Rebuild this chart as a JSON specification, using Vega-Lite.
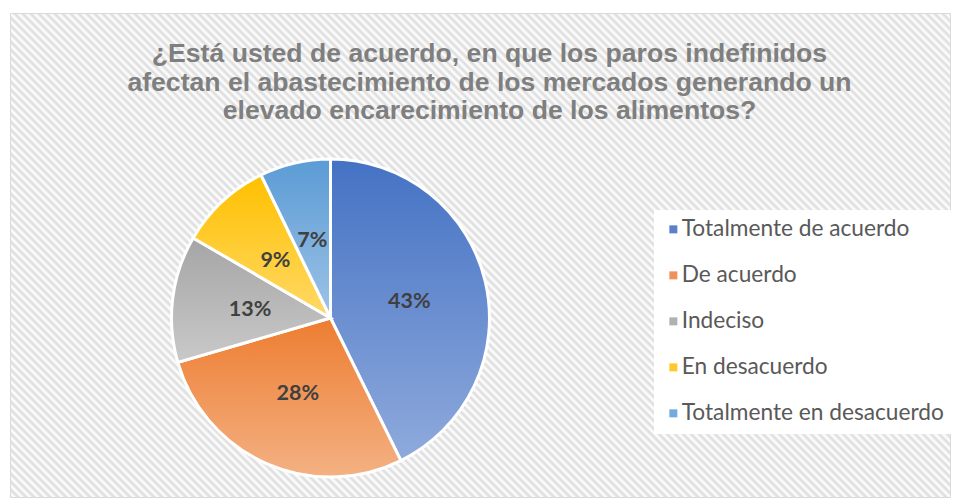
{
  "$schema": "https://vega.github.io/schema/vega-lite/v6.json",
  "width": 940,
  "height": 484,
  "autosize": {"type": "none"},
  "padding": {"left": 10, "top": 13, "right": 5, "bottom": 4},
  "background": "#ffffff",
  "title": {
    "text": ["¿Está usted de acuerdo, en que los paros indefinidos", "afectan el abastecimiento de los mercados generando un", "elevado encarecimiento de los alimentos?"],
    "anchor": "middle",
    "frame": "group",
    "offset": -112,
    "dx": 9.5,
    "font": "Liberation Sans",
    "fontSize": 26.6,
    "fontWeight": "bold",
    "color": "#7f7f7f",
    "lineHeight": 28.5
  },
  "data": {
    "values": [
      {"categoria": "Totalmente de acuerdo", "proporcion": 0.427, "orden": 1},
      {"categoria": "De acuerdo", "proporcion": 0.278, "orden": 2},
      {"categoria": "Indeciso", "proporcion": 0.129, "orden": 3},
      {"categoria": "En desacuerdo", "proporcion": 0.094, "orden": 4},
      {"categoria": "Totalmente en desacuerdo", "proporcion": 0.072, "orden": 5}
    ]
  },
  "view": {
    "stroke": "#d9d9d9",
    "strokeWidth": 1,
    "fill": {
      "gradient": "linear",
      "x1": 0, "y1": 1.181818, "x2": 1.34544, "y2": 0.48906,
      "stops": [
        {"offset":0.055,"color":"#dcdcdc"},{"offset":0.0575,"color":"#fff"},
        {"offset":0.06,"color":"#dcdcdc"},{"offset":0.0625,"color":"#fff"},{"offset":0.065,"color":"#dcdcdc"},{"offset":0.0675,"color":"#fff"},
        {"offset":0.07,"color":"#dcdcdc"},{"offset":0.0725,"color":"#fff"},{"offset":0.075,"color":"#dcdcdc"},{"offset":0.0775,"color":"#fff"},
        {"offset":0.08,"color":"#dcdcdc"},{"offset":0.0825,"color":"#fff"},{"offset":0.085,"color":"#dcdcdc"},{"offset":0.0875,"color":"#fff"},
        {"offset":0.09,"color":"#dcdcdc"},{"offset":0.0925,"color":"#fff"},{"offset":0.095,"color":"#dcdcdc"},{"offset":0.0975,"color":"#fff"},
        {"offset":0.10,"color":"#dcdcdc"},{"offset":0.1025,"color":"#fff"},{"offset":0.105,"color":"#dcdcdc"},{"offset":0.1075,"color":"#fff"},
        {"offset":0.11,"color":"#dcdcdc"},{"offset":0.1125,"color":"#fff"},{"offset":0.115,"color":"#dcdcdc"},{"offset":0.1175,"color":"#fff"},
        {"offset":0.12,"color":"#dcdcdc"},{"offset":0.1225,"color":"#fff"},{"offset":0.125,"color":"#dcdcdc"},{"offset":0.1275,"color":"#fff"},
        {"offset":0.13,"color":"#dcdcdc"},{"offset":0.1325,"color":"#fff"},{"offset":0.135,"color":"#dcdcdc"},{"offset":0.1375,"color":"#fff"},
        {"offset":0.14,"color":"#dcdcdc"},{"offset":0.1425,"color":"#fff"},{"offset":0.145,"color":"#dcdcdc"},{"offset":0.1475,"color":"#fff"},
        {"offset":0.15,"color":"#dcdcdc"},{"offset":0.1525,"color":"#fff"},{"offset":0.155,"color":"#dcdcdc"},{"offset":0.1575,"color":"#fff"},
        {"offset":0.16,"color":"#dcdcdc"},{"offset":0.1625,"color":"#fff"},{"offset":0.165,"color":"#dcdcdc"},{"offset":0.1675,"color":"#fff"},
        {"offset":0.17,"color":"#dcdcdc"},{"offset":0.1725,"color":"#fff"},{"offset":0.175,"color":"#dcdcdc"},{"offset":0.1775,"color":"#fff"},
        {"offset":0.18,"color":"#dcdcdc"},{"offset":0.1825,"color":"#fff"},{"offset":0.185,"color":"#dcdcdc"},{"offset":0.1875,"color":"#fff"},
        {"offset":0.19,"color":"#dcdcdc"},{"offset":0.1925,"color":"#fff"},{"offset":0.195,"color":"#dcdcdc"},{"offset":0.1975,"color":"#fff"},
        {"offset":0.20,"color":"#dcdcdc"},{"offset":0.2025,"color":"#fff"},{"offset":0.205,"color":"#dcdcdc"},{"offset":0.2075,"color":"#fff"},
        {"offset":0.21,"color":"#dcdcdc"},{"offset":0.2125,"color":"#fff"},{"offset":0.215,"color":"#dcdcdc"},{"offset":0.2175,"color":"#fff"},
        {"offset":0.22,"color":"#dcdcdc"},{"offset":0.2225,"color":"#fff"},{"offset":0.225,"color":"#dcdcdc"},{"offset":0.2275,"color":"#fff"},
        {"offset":0.23,"color":"#dcdcdc"},{"offset":0.2325,"color":"#fff"},{"offset":0.235,"color":"#dcdcdc"},{"offset":0.2375,"color":"#fff"},
        {"offset":0.24,"color":"#dcdcdc"},{"offset":0.2425,"color":"#fff"},{"offset":0.245,"color":"#dcdcdc"},{"offset":0.2475,"color":"#fff"},
        {"offset":0.25,"color":"#dcdcdc"},{"offset":0.2525,"color":"#fff"},{"offset":0.255,"color":"#dcdcdc"},{"offset":0.2575,"color":"#fff"},
        {"offset":0.26,"color":"#dcdcdc"},{"offset":0.2625,"color":"#fff"},{"offset":0.265,"color":"#dcdcdc"},{"offset":0.2675,"color":"#fff"},
        {"offset":0.27,"color":"#dcdcdc"},{"offset":0.2725,"color":"#fff"},{"offset":0.275,"color":"#dcdcdc"},{"offset":0.2775,"color":"#fff"},
        {"offset":0.28,"color":"#dcdcdc"},{"offset":0.2825,"color":"#fff"},{"offset":0.285,"color":"#dcdcdc"},{"offset":0.2875,"color":"#fff"},
        {"offset":0.29,"color":"#dcdcdc"},{"offset":0.2925,"color":"#fff"},{"offset":0.295,"color":"#dcdcdc"},{"offset":0.2975,"color":"#fff"},
        {"offset":0.30,"color":"#dcdcdc"},{"offset":0.3025,"color":"#fff"},{"offset":0.305,"color":"#dcdcdc"},{"offset":0.3075,"color":"#fff"},
        {"offset":0.31,"color":"#dcdcdc"},{"offset":0.3125,"color":"#fff"},{"offset":0.315,"color":"#dcdcdc"},{"offset":0.3175,"color":"#fff"},
        {"offset":0.32,"color":"#dcdcdc"},{"offset":0.3225,"color":"#fff"},{"offset":0.325,"color":"#dcdcdc"},{"offset":0.3275,"color":"#fff"},
        {"offset":0.33,"color":"#dcdcdc"},{"offset":0.3325,"color":"#fff"},{"offset":0.335,"color":"#dcdcdc"},{"offset":0.3375,"color":"#fff"},
        {"offset":0.34,"color":"#dcdcdc"},{"offset":0.3425,"color":"#fff"},{"offset":0.345,"color":"#dcdcdc"},{"offset":0.3475,"color":"#fff"},
        {"offset":0.35,"color":"#dcdcdc"},{"offset":0.3525,"color":"#fff"},{"offset":0.355,"color":"#dcdcdc"},{"offset":0.3575,"color":"#fff"},
        {"offset":0.36,"color":"#dcdcdc"},{"offset":0.3625,"color":"#fff"},{"offset":0.365,"color":"#dcdcdc"},{"offset":0.3675,"color":"#fff"},
        {"offset":0.37,"color":"#dcdcdc"},{"offset":0.3725,"color":"#fff"},{"offset":0.375,"color":"#dcdcdc"},{"offset":0.3775,"color":"#fff"},
        {"offset":0.38,"color":"#dcdcdc"},{"offset":0.3825,"color":"#fff"},{"offset":0.385,"color":"#dcdcdc"},{"offset":0.3875,"color":"#fff"},
        {"offset":0.39,"color":"#dcdcdc"},{"offset":0.3925,"color":"#fff"},{"offset":0.395,"color":"#dcdcdc"},{"offset":0.3975,"color":"#fff"},
        {"offset":0.40,"color":"#dcdcdc"},{"offset":0.4025,"color":"#fff"},{"offset":0.405,"color":"#dcdcdc"},{"offset":0.4075,"color":"#fff"},
        {"offset":0.41,"color":"#dcdcdc"},{"offset":0.4125,"color":"#fff"},{"offset":0.415,"color":"#dcdcdc"},{"offset":0.4175,"color":"#fff"},
        {"offset":0.42,"color":"#dcdcdc"},{"offset":0.4225,"color":"#fff"},{"offset":0.425,"color":"#dcdcdc"},{"offset":0.4275,"color":"#fff"},
        {"offset":0.43,"color":"#dcdcdc"},{"offset":0.4325,"color":"#fff"},{"offset":0.435,"color":"#dcdcdc"},{"offset":0.4375,"color":"#fff"},
        {"offset":0.44,"color":"#dcdcdc"},{"offset":0.4425,"color":"#fff"},{"offset":0.445,"color":"#dcdcdc"},{"offset":0.4475,"color":"#fff"},
        {"offset":0.45,"color":"#dcdcdc"},{"offset":0.4525,"color":"#fff"},{"offset":0.455,"color":"#dcdcdc"},{"offset":0.4575,"color":"#fff"},
        {"offset":0.46,"color":"#dcdcdc"},{"offset":0.4625,"color":"#fff"},{"offset":0.465,"color":"#dcdcdc"},{"offset":0.4675,"color":"#fff"},
        {"offset":0.47,"color":"#dcdcdc"},{"offset":0.4725,"color":"#fff"},{"offset":0.475,"color":"#dcdcdc"},{"offset":0.4775,"color":"#fff"},
        {"offset":0.48,"color":"#dcdcdc"},{"offset":0.4825,"color":"#fff"},{"offset":0.485,"color":"#dcdcdc"},{"offset":0.4875,"color":"#fff"},
        {"offset":0.49,"color":"#dcdcdc"},{"offset":0.4925,"color":"#fff"},{"offset":0.495,"color":"#dcdcdc"},{"offset":0.4975,"color":"#fff"},
        {"offset":0.50,"color":"#dcdcdc"},{"offset":0.5025,"color":"#fff"},{"offset":0.505,"color":"#dcdcdc"},{"offset":0.5075,"color":"#fff"},
        {"offset":0.51,"color":"#dcdcdc"},{"offset":0.5125,"color":"#fff"},{"offset":0.515,"color":"#dcdcdc"},{"offset":0.5175,"color":"#fff"},
        {"offset":0.52,"color":"#dcdcdc"},{"offset":0.5225,"color":"#fff"},{"offset":0.525,"color":"#dcdcdc"},{"offset":0.5275,"color":"#fff"},
        {"offset":0.53,"color":"#dcdcdc"},{"offset":0.5325,"color":"#fff"},{"offset":0.535,"color":"#dcdcdc"},{"offset":0.5375,"color":"#fff"},
        {"offset":0.54,"color":"#dcdcdc"},{"offset":0.5425,"color":"#fff"},{"offset":0.545,"color":"#dcdcdc"},{"offset":0.5475,"color":"#fff"},
        {"offset":0.55,"color":"#dcdcdc"},{"offset":0.5525,"color":"#fff"},{"offset":0.555,"color":"#dcdcdc"},{"offset":0.5575,"color":"#fff"},
        {"offset":0.56,"color":"#dcdcdc"},{"offset":0.5625,"color":"#fff"},{"offset":0.565,"color":"#dcdcdc"},{"offset":0.5675,"color":"#fff"},
        {"offset":0.57,"color":"#dcdcdc"},{"offset":0.5725,"color":"#fff"},{"offset":0.575,"color":"#dcdcdc"},{"offset":0.5775,"color":"#fff"},
        {"offset":0.58,"color":"#dcdcdc"},{"offset":0.5825,"color":"#fff"},{"offset":0.585,"color":"#dcdcdc"},{"offset":0.5875,"color":"#fff"},
        {"offset":0.59,"color":"#dcdcdc"},{"offset":0.5925,"color":"#fff"},{"offset":0.595,"color":"#dcdcdc"},{"offset":0.5975,"color":"#fff"},
        {"offset":0.60,"color":"#dcdcdc"},{"offset":0.6025,"color":"#fff"},{"offset":0.605,"color":"#dcdcdc"},{"offset":0.6075,"color":"#fff"},
        {"offset":0.61,"color":"#dcdcdc"},{"offset":0.6125,"color":"#fff"},{"offset":0.615,"color":"#dcdcdc"},{"offset":0.6175,"color":"#fff"},
        {"offset":0.62,"color":"#dcdcdc"},{"offset":0.6225,"color":"#fff"},{"offset":0.625,"color":"#dcdcdc"},{"offset":0.6275,"color":"#fff"},
        {"offset":0.63,"color":"#dcdcdc"},{"offset":0.6325,"color":"#fff"},{"offset":0.635,"color":"#dcdcdc"},{"offset":0.6375,"color":"#fff"},
        {"offset":0.64,"color":"#dcdcdc"},{"offset":0.6425,"color":"#fff"},{"offset":0.645,"color":"#dcdcdc"},{"offset":0.6475,"color":"#fff"},
        {"offset":0.65,"color":"#dcdcdc"},{"offset":0.6525,"color":"#fff"},{"offset":0.655,"color":"#dcdcdc"},{"offset":0.6575,"color":"#fff"},
        {"offset":0.66,"color":"#dcdcdc"},{"offset":0.6625,"color":"#fff"},{"offset":0.665,"color":"#dcdcdc"},{"offset":0.6675,"color":"#fff"},
        {"offset":0.67,"color":"#dcdcdc"},{"offset":0.6725,"color":"#fff"},{"offset":0.675,"color":"#dcdcdc"},{"offset":0.6775,"color":"#fff"},
        {"offset":0.68,"color":"#dcdcdc"},{"offset":0.6825,"color":"#fff"},{"offset":0.685,"color":"#dcdcdc"},{"offset":0.6875,"color":"#fff"},
        {"offset":0.69,"color":"#dcdcdc"},{"offset":0.6925,"color":"#fff"},{"offset":0.695,"color":"#dcdcdc"},{"offset":0.6975,"color":"#fff"},
        {"offset":0.70,"color":"#dcdcdc"},{"offset":0.7025,"color":"#fff"},{"offset":0.705,"color":"#dcdcdc"},{"offset":0.7075,"color":"#fff"},
        {"offset":0.71,"color":"#dcdcdc"},{"offset":0.7125,"color":"#fff"},{"offset":0.715,"color":"#dcdcdc"},{"offset":0.7175,"color":"#fff"},
        {"offset":0.72,"color":"#dcdcdc"},{"offset":0.7225,"color":"#fff"},{"offset":0.725,"color":"#dcdcdc"},{"offset":0.7275,"color":"#fff"},
        {"offset":0.73,"color":"#dcdcdc"},{"offset":0.7325,"color":"#fff"},{"offset":0.735,"color":"#dcdcdc"},{"offset":0.7375,"color":"#fff"},
        {"offset":0.74,"color":"#dcdcdc"},{"offset":0.7425,"color":"#fff"},{"offset":0.745,"color":"#dcdcdc"},{"offset":0.7475,"color":"#fff"},
        {"offset":0.75,"color":"#dcdcdc"},{"offset":0.7525,"color":"#fff"},{"offset":0.755,"color":"#dcdcdc"},{"offset":0.7575,"color":"#fff"},
        {"offset":0.76,"color":"#dcdcdc"},{"offset":0.7625,"color":"#fff"},{"offset":0.765,"color":"#dcdcdc"},{"offset":0.7675,"color":"#fff"},
        {"offset":0.77,"color":"#dcdcdc"},{"offset":0.7725,"color":"#fff"},{"offset":0.775,"color":"#dcdcdc"},{"offset":0.7775,"color":"#fff"},
        {"offset":0.78,"color":"#dcdcdc"},{"offset":0.7825,"color":"#fff"},{"offset":0.785,"color":"#dcdcdc"},{"offset":0.7875,"color":"#fff"},
        {"offset":0.79,"color":"#dcdcdc"},{"offset":0.7925,"color":"#fff"},{"offset":0.795,"color":"#dcdcdc"},{"offset":0.7975,"color":"#fff"},
        {"offset":0.80,"color":"#dcdcdc"},{"offset":0.8025,"color":"#fff"},{"offset":0.805,"color":"#dcdcdc"},{"offset":0.8075,"color":"#fff"},
        {"offset":0.81,"color":"#dcdcdc"},{"offset":0.8125,"color":"#fff"},{"offset":0.815,"color":"#dcdcdc"},{"offset":0.8175,"color":"#fff"},
        {"offset":0.82,"color":"#dcdcdc"},{"offset":0.8225,"color":"#fff"},{"offset":0.825,"color":"#dcdcdc"},{"offset":0.8275,"color":"#fff"},
        {"offset":0.83,"color":"#dcdcdc"},{"offset":0.8325,"color":"#fff"},{"offset":0.835,"color":"#dcdcdc"},{"offset":0.8375,"color":"#fff"},
        {"offset":0.84,"color":"#dcdcdc"},{"offset":0.8425,"color":"#fff"},{"offset":0.845,"color":"#dcdcdc"},{"offset":0.8475,"color":"#fff"},
        {"offset":0.85,"color":"#dcdcdc"},{"offset":0.8525,"color":"#fff"},{"offset":0.855,"color":"#dcdcdc"},{"offset":0.8575,"color":"#fff"},
        {"offset":0.86,"color":"#dcdcdc"},{"offset":0.8625,"color":"#fff"},{"offset":0.865,"color":"#dcdcdc"},{"offset":0.8675,"color":"#fff"},
        {"offset":0.87,"color":"#dcdcdc"},{"offset":0.8725,"color":"#fff"},{"offset":0.875,"color":"#dcdcdc"},{"offset":0.8775,"color":"#fff"},
        {"offset":0.88,"color":"#dcdcdc"},{"offset":0.8825,"color":"#fff"},{"offset":0.885,"color":"#dcdcdc"},{"offset":0.8875,"color":"#fff"},
        {"offset":0.89,"color":"#dcdcdc"},{"offset":0.8925,"color":"#fff"},{"offset":0.895,"color":"#dcdcdc"},{"offset":0.8975,"color":"#fff"},
        {"offset":0.90,"color":"#dcdcdc"},{"offset":0.9025,"color":"#fff"},{"offset":0.905,"color":"#dcdcdc"},{"offset":0.9075,"color":"#fff"},
        {"offset":0.91,"color":"#dcdcdc"},{"offset":0.9125,"color":"#fff"},{"offset":0.915,"color":"#dcdcdc"},{"offset":0.9175,"color":"#fff"},
        {"offset":0.92,"color":"#dcdcdc"},{"offset":0.9225,"color":"#fff"},{"offset":0.925,"color":"#dcdcdc"},{"offset":0.9275,"color":"#fff"},
        {"offset":0.93,"color":"#dcdcdc"},{"offset":0.9325,"color":"#fff"},{"offset":0.935,"color":"#dcdcdc"},{"offset":0.9375,"color":"#fff"},
        {"offset":0.94,"color":"#dcdcdc"},{"offset":0.9425,"color":"#fff"},{"offset":0.945,"color":"#dcdcdc"},{"offset":0.9475,"color":"#fff"}
      ]
    }
  },
  "layer": [
    {
      "mark": {"type": "arc", "outerRadius": 159, "stroke": "#ffffff", "strokeWidth": 3},
      "encoding": {
        "theta": {"field": "proporcion", "type": "quantitative", "stack": true},
        "order": {"field": "orden", "type": "quantitative"},
        "x": {"value": 320.5},
        "y": {"value": 305},
        "fill": {
          "condition": [
            {"test": "datum.categoria === 'Totalmente de acuerdo'", "value": {"gradient": "linear", "x1": 0, "y1": 0, "x2": 0, "y2": 1, "stops": [{"offset": 0, "color": "#4472c4"}, {"offset": 1, "color": "#8faadc"}]}},
            {"test": "datum.categoria === 'De acuerdo'", "value": {"gradient": "linear", "x1": 0, "y1": 0, "x2": 0, "y2": 1, "stops": [{"offset": 0, "color": "#ed7d31"}, {"offset": 1, "color": "#f4b183"}]}},
            {"test": "datum.categoria === 'Indeciso'", "value": {"gradient": "linear", "x1": 0, "y1": 0, "x2": 0, "y2": 1, "stops": [{"offset": 0, "color": "#a5a5a5"}, {"offset": 1, "color": "#c9c9c9"}]}},
            {"test": "datum.categoria === 'En desacuerdo'", "value": {"gradient": "linear", "x1": 0, "y1": 0, "x2": 0, "y2": 1, "stops": [{"offset": 0, "color": "#ffc000"}, {"offset": 1, "color": "#ffd966"}]}}
          ],
          "value": {"gradient": "linear", "x1": 0, "y1": 0, "x2": 0, "y2": 1, "stops": [{"offset": 0, "color": "#5b9bd5"}, {"offset": 1, "color": "#9dc3e6"}]}
        }
      }
    },
    {
      "mark": {"type": "text", "radius": 81, "dy": 2, "font": "Lato", "fontSize": 21.5, "fontWeight": "bold", "color": "#404040"},
      "encoding": {
        "theta": {"field": "proporcion", "type": "quantitative", "stack": true},
        "order": {"field": "orden", "type": "quantitative"},
        "x": {"value": 320.5},
        "y": {"value": 305},
        "detail": {"field": "categoria", "type": "nominal"},
        "text": {"field": "proporcion", "type": "quantitative", "format": ".0%"}
      }
    },
    {
      "mark": {"type": "square", "opacity": 0, "size": 1},
      "encoding": {
        "color": {
          "field": "categoria",
          "type": "nominal",
          "sort": ["Totalmente de acuerdo", "De acuerdo", "Indeciso", "En desacuerdo", "Totalmente en desacuerdo"],
          "scale": {
            "domain": ["Totalmente de acuerdo", "De acuerdo", "Indeciso", "En desacuerdo", "Totalmente en desacuerdo"],
            "range": ["#5a80cb", "#f0915a", "#b1b1b1", "#ffc92b", "#73abdc"]
          },
          "legend": {
            "title": null,
            "orient": "none",
            "legendX": 644,
            "legendY": 197,
            "padding": 8,
            "fillColor": "#ffffff",
            "labelFont": "Lato",
            "labelFontSize": 22.7,
            "labelColor": "#595959",
            "labelLimit": 400,
            "labelOffset": -3,
            "symbolType": "square",
            "symbolSize": 64,
            "symbolOpacity": 1,
            "symbolStrokeWidth": 0,
            "rowPadding": 22
          }
        }
      }
    }
  ]
}
